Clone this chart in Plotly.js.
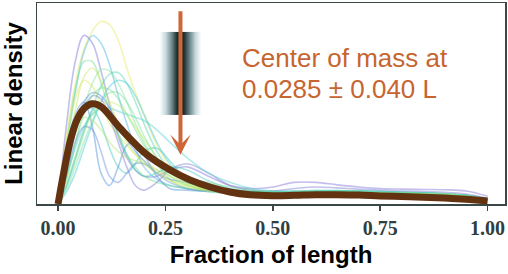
<!DOCTYPE html>
<html><head><meta charset="utf-8">
<script src="https://cdn.plot.ly/plotly-3.0.1.min.js"></script>
<style>html,body{margin:0;padding:0;background:#fff}#chart{width:508px;height:274px}</style>
</head><body><div id="chart"></div>
<script>
// Shared position grid (fraction of length)
var xGrid = [0,0.02,0.04,0.06,0.08,0.10,0.12,0.14,0.16,0.18,0.20,0.23,0.26,0.30,0.35,0.40,0.45,0.50,0.55,0.60,0.65,0.70,0.75,0.80,0.85,0.90,0.95,1.00];

// Individual density profiles
var curveA = [0,2.2,3.9,5.0,5.6,5.9,5.8,5.3,4.4,3.6,2.9,1.9,1.2,0.7,0.45,0.38,0.35,0.34,0.35,0.36,0.36,0.35,0.34,0.33,0.32,0.3,0.25,0.15];
var curveB = [0,2.6,4.6,5.45,5.2,4.3,3.2,2.2,1.5,1.1,0.9,0.9,1.1,1.2,0.9,0.6,0.5,0.55,0.7,0.7,0.62,0.55,0.5,0.48,0.47,0.46,0.42,0.25];
var curveC = [0,1.8,3.6,4.9,5.45,5.2,4.5,3.5,2.6,1.8,1.2,0.8,0.6,0.5,0.4,0.35,0.33,0.32,0.33,0.34,0.34,0.33,0.32,0.3,0.29,0.27,0.23,0.14];
var curveD = [0,2.0,3.7,4.6,4.6,3.9,3.0,2.2,1.6,1.2,0.9,0.7,0.6,0.5,0.45,0.4,0.38,0.37,0.38,0.4,0.42,0.42,0.4,0.38,0.36,0.33,0.28,0.16];
var curveE = [0,0.9,2.0,3.1,3.9,4.35,4.3,3.9,3.3,2.6,2.0,1.3,0.8,0.5,0.4,0.36,0.35,0.35,0.36,0.38,0.4,0.4,0.38,0.36,0.34,0.32,0.27,0.15];
var curveF = [0,0.6,1.4,2.3,3.1,3.8,4.2,4.25,3.9,3.3,2.6,1.7,1.1,0.7,0.5,0.42,0.4,0.4,0.42,0.44,0.44,0.42,0.4,0.38,0.36,0.33,0.28,0.16];
var curveG = [0,2.0,3.4,4.0,3.8,3.2,2.6,2.2,1.9,1.6,1.4,1.1,0.8,0.6,0.45,0.38,0.34,0.33,0.34,0.36,0.37,0.36,0.35,0.34,0.33,0.31,0.26,0.15];
var curveH = [0,0.4,1.0,1.8,2.6,3.3,3.8,4.0,3.9,3.5,2.9,2.0,1.3,0.8,0.55,0.45,0.4,0.38,0.38,0.4,0.41,0.4,0.38,0.36,0.34,0.31,0.26,0.15];
var curveI = [0,1.3,2.6,3.3,3.6,3.5,3.1,2.6,2.1,1.7,1.4,1.0,0.8,0.7,0.55,0.45,0.38,0.35,0.35,0.37,0.38,0.37,0.35,0.33,0.31,0.29,0.24,0.14];
var curveJ = [0,1.7,2.9,3.3,2.5,1.0,0.6,1.2,1.9,2.0,1.6,0.9,0.5,0.45,0.42,0.4,0.38,0.36,0.36,0.37,0.38,0.37,0.35,0.33,0.31,0.29,0.24,0.14];
var curveK = [0,1.3,2.4,3.0,3.1,2.6,1.8,1.2,1.0,1.3,1.7,1.8,1.4,0.8,0.5,0.42,0.4,0.4,0.4,0.41,0.42,0.41,0.39,0.37,0.35,0.32,0.27,0.15];
var curveL = [0,1.1,2.3,3.1,3.5,3.4,2.8,2.0,1.2,0.6,0.45,0.7,1.1,1.3,1.0,0.6,0.45,0.42,0.5,0.55,0.52,0.48,0.45,0.42,0.4,0.38,0.32,0.18];
var curveM = [0,0.8,1.9,2.9,3.5,3.75,3.7,3.4,2.9,2.4,1.9,1.3,0.9,0.6,0.45,0.4,0.38,0.37,0.38,0.4,0.41,0.4,0.38,0.36,0.34,0.31,0.26,0.15];
var curveN = [0,0.7,1.5,2.3,2.9,3.2,3.3,3.2,2.9,2.5,2.1,1.5,1.0,0.65,0.45,0.38,0.35,0.34,0.35,0.37,0.38,0.37,0.36,0.34,0.33,0.31,0.26,0.15];
var curveO = [0,1.5,2.5,2.8,2.7,2.4,2.0,1.7,1.5,1.4,1.3,1.1,0.9,0.65,0.45,0.38,0.35,0.34,0.35,0.36,0.37,0.36,0.35,0.33,0.32,0.3,0.25,0.14];
var curveP = [0,0.9,1.8,2.5,2.9,3.1,3.1,3.0,2.9,2.8,2.7,2.4,2.0,1.5,1.0,0.7,0.5,0.42,0.4,0.41,0.42,0.41,0.39,0.37,0.35,0.32,0.27,0.15];
var curveQ = [0,1.0,2.0,2.5,2.4,1.7,0.9,0.7,1.0,1.3,1.3,1.0,0.7,0.5,0.42,0.38,0.35,0.33,0.33,0.34,0.35,0.34,0.33,0.31,0.3,0.28,0.23,0.13];
var curveR = [0,0.6,1.5,2.4,3.0,3.2,2.9,2.3,1.6,1.1,0.9,1.0,1.2,1.1,0.75,0.5,0.42,0.4,0.4,0.42,0.43,0.42,0.4,0.38,0.36,0.33,0.28,0.16];
var curveS = [0,1.5,3.0,4.1,4.4,4.0,3.3,2.6,2.0,1.6,1.3,1.0,0.75,0.55,0.42,0.37,0.34,0.33,0.34,0.36,0.37,0.36,0.35,0.34,0.33,0.31,0.26,0.15];
var curveT = [0,0.5,1.2,2.0,2.7,3.3,3.6,3.6,3.3,2.8,2.2,1.5,1.0,0.8,0.7,0.55,0.45,0.4,0.4,0.41,0.42,0.41,0.39,0.37,0.35,0.32,0.27,0.15];

var curveColors = ['#e6e85a','#7a6fd8','#48b4e0','#6fe08a','#86e69a','#4fd3b0','#d6e85a','#42c8d8','#5a8ee0','#4a90d8',
                   '#40c8b8','#7b78d8','#78e088','#c8ea6a','#b4e46a','#52d0d0','#6a8ee0','#48c8c0','#cce860','#7ae09a'];
var curves = [curveA,curveB,curveC,curveD,curveE,curveF,curveG,curveH,curveI,curveJ,
              curveK,curveL,curveM,curveN,curveO,curveP,curveQ,curveR,curveS,curveT];

// Mean profile
var meanX = [0,0.013,0.029,0.044,0.06,0.079,0.10,0.144,0.207,0.261,0.307,0.354,0.40,0.447,0.50,0.55,0.60,0.65,0.70,0.75,0.80,0.85,0.90,0.95,0.98,1.0];
var meanY = [0,1.0,2.07,2.72,3.08,3.24,3.15,2.46,1.59,1.10,0.78,0.55,0.39,0.30,0.27,0.28,0.30,0.30,0.29,0.26,0.24,0.22,0.19,0.15,0.12,0.10];

// Annotation values
var comX = 0.285;
var comSpread = 0.0485;
var arrowTop = 6.28, arrowTip = 1.59;
var barTop = 5.57, barBottom = 2.88;
var textLine1 = 'Center of mass at';
var textLine2 = '0.0285 \u00b1 0.040 L';
var xTickVals = [0, 0.25, 0.5, 0.75, 1.0];
var xTickText = ['0.00','0.25','0.50','0.75','1.00'];

var traces = curves.map(function(c, i){
  return {x: xGrid, y: c, type: 'scatter', mode: 'lines',
          line: {color: curveColors[i], width: 1.6, shape: 'spline', smoothing: 1},
          opacity: 0.45, hoverinfo: 'skip'};
});
traces.push({x: meanX, y: meanY, type: 'scatter', mode: 'lines',
  line: {color: '#633210', width: 7, shape: 'spline', smoothing: 1}, hoverinfo: 'skip'});

var svg = '<svg xmlns="http://www.w3.org/2000/svg" width="100" height="100" preserveAspectRatio="none">' +
  '<defs><linearGradient id="g" x1="0" y1="0" x2="1" y2="0">' +
  '<stop offset="0" stop-color="#ffffff"/>' +
  '<stop offset="0.15" stop-color="#c6d8dc"/>' +
  '<stop offset="0.3" stop-color="#6a8488"/>' +
  '<stop offset="0.42" stop-color="#1c2c2c"/>' +
  '<stop offset="0.58" stop-color="#1c2c2c"/>' +
  '<stop offset="0.72" stop-color="#6a8488"/>' +
  '<stop offset="0.86" stop-color="#c6d8dc"/>' +
  '<stop offset="1" stop-color="#ffffff"/>' +
  '</linearGradient></defs><rect x="0" y="0" width="100" height="100" fill="url(#g)"/></svg>';
var svgUri = 'data:image/svg+xml;charset=utf-8,' + encodeURIComponent(svg);

var axisColor = '#3a4848';
var layout = {
  width: 508, height: 274,
  margin: {l: 37, r: 3, t: 3, b: 70},
  paper_bgcolor: '#fff', plot_bgcolor: '#fff',
  showlegend: false, hovermode: false,
  xaxis: {range: [-0.049, 1.0405], tickvals: xTickVals, ticktext: xTickText,
    ticks: 'outside', ticklen: 5, tickwidth: 1.5, tickcolor: axisColor,
    showline: true, linecolor: axisColor, linewidth: 1.5, mirror: true,
    showgrid: false, zeroline: false,
    tickfont: {family: 'Liberation Serif, serif', size: 20, color: '#2f3e3e', weight: 'bold'},
    title: {text: 'Fraction of length', standoff: 8,
      font: {family: 'Liberation Sans, Arial, sans-serif', size: 24, color: '#000', weight: 'bold'}}},
  yaxis: {range: [0, 6.5], showticklabels: false, ticks: '',
    showline: true, linecolor: axisColor, linewidth: 1.5, mirror: true,
    showgrid: false, zeroline: false,
    title: {text: 'Linear density', standoff: 8,
      font: {family: 'Liberation Sans, Arial, sans-serif', size: 24, color: '#000', weight: 'bold'}}},
  images: [{source: svgUri, xref: 'x', yref: 'y', x: comX - comSpread, y: barTop,
    sizex: 2 * comSpread, sizey: barTop - barBottom, sizing: 'stretch',
    xanchor: 'left', yanchor: 'top', layer: 'above'}],
  annotations: [
    {x: comX, y: arrowTip, ax: comX, ay: arrowTop, xref: 'x', yref: 'y', axref: 'x', ayref: 'y',
     showarrow: true, arrowhead: 3, arrowsize: 0.85, arrowwidth: 4, arrowcolor: '#cf6638', text: ''},
    {x: 0.424, y: 4.72, xref: 'x', yref: 'y', xanchor: 'left', yanchor: 'middle', showarrow: false,
     text: textLine1, font: {family: 'Liberation Sans, Arial, sans-serif', size: 26, color: '#c6652f'}},
    {x: 0.424, y: 3.72, xref: 'x', yref: 'y', xanchor: 'left', yanchor: 'middle', showarrow: false,
     text: textLine2, font: {family: 'Liberation Sans, Arial, sans-serif', size: 26, color: '#c6652f'}}
  ]
};
Plotly.newPlot('chart', traces, layout, {staticPlot: true, displayModeBar: false});
</script></body></html>
